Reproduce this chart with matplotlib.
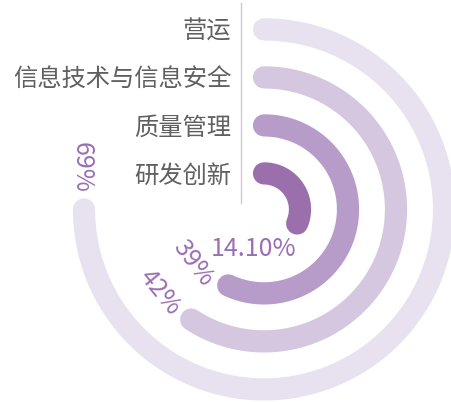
import numpy as np
import matplotlib
matplotlib.use("Agg")
import matplotlib.pyplot as plt
from matplotlib.lines import Line2D

# 数据（从外到内）
categories = ["营运", "信息技术与信息安全", "质量管理", "研发创新"]
value_labels = ["69%", "42%", "39%", "14.10%"]
arc_fraction = [0.75, 0.593, 0.57, 0.314]   # 圆弧占整圆的比例

ring_colors = ["#e8e2f0", "#d5c7e0", "#b79bc8", "#9a6fac"]
label_color = "#9a6fb3"
text_color = "#606060"

plt.rcParams['font.family'] = ['Noto Sans CJK SC', 'DejaVu Sans']

W, H = 451, 404
cx, cy = 264, 209.4          # 圆心（像素）
unit = 48.0                  # 每一环的间距（像素）
rmax = 4.583

fig = plt.figure(figsize=(W / 100, H / 100), dpi=100)
R_px = rmax * unit
ax = fig.add_axes([(cx - R_px) / W, (H - cy - R_px) / H, 2 * R_px / W, 2 * R_px / H],
                  projection='polar')
ax.set_theta_zero_location('N')
ax.set_theta_direction(-1)
ax.set_ylim(0, rmax)
ax.axis('off')

n = len(categories)
radii = [0.75 + (n - 1 - i) for i in range(n)]   # 外环在最外

for i in range(n):
    theta = np.linspace(0, arc_fraction[i] * 2 * np.pi, 300)
    ax.plot(theta, np.full_like(theta, radii[i]), color=ring_colors[i],
            lw=16, solid_capstyle='round', clip_on=False)
    # 类别标签
    ax.annotate(categories[i], xy=(0, radii[i]), xytext=(-33, -2),
                textcoords='offset pixels', ha='right', va='center',
                fontsize=17.5, color=text_color)

# 百分比标签（角度、半径、旋转）
label_theta = [282.8, 231.5, 233, 195.5]
label_r = [3.9, 2.77, 1.85, 0.85]
label_rot = [-90, -51, -53, 0]
for i in range(n):
    ax.text(np.deg2rad(label_theta[i]), label_r[i], value_labels[i],
            rotation=label_rot[i], rotation_mode='anchor',
            ha='center', va='center', fontsize=18, fontweight='medium',
            color=label_color)

# 竖线
fig.add_artist(Line2D([241 / W, 241 / W], [1 - 3 / H, 1 - 203 / H],
                      transform=fig.transFigure, color="#cccccc", lw=1))

fig.savefig("out.png", dpi=100)
